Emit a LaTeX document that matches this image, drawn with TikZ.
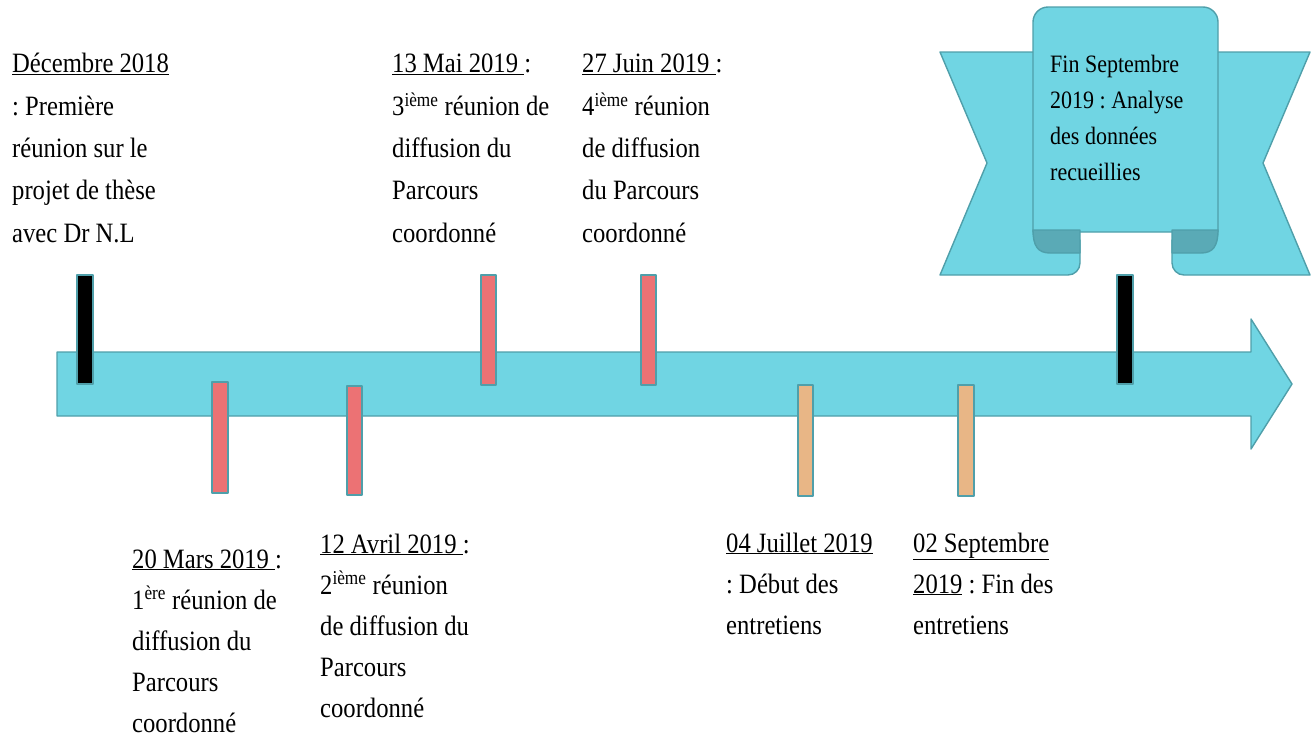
\documentclass[tikz,border=0pt]{standalone}
\usepackage{fontspec}
\setmainfont{Liberation Serif}[FakeStretch=0.88]
\frenchspacing
\definecolor{cyanfill}{HTML}{70D5E3}
\definecolor{tealline}{HTML}{4F9FAA}
\definecolor{folddark}{HTML}{5AAAB6}
\definecolor{barred}{HTML}{EC7274}
\definecolor{barorange}{HTML}{E8B686}
\begin{document}
\begin{tikzpicture}[x=1pt,y=-1pt,
  shape line/.style={draw=tealline, line width=1.4pt, line join=round},
  lbltop/.style={anchor=base west, inner sep=0pt, align=left, font=\fontsize{28}{42.3}\selectfont},
  lblbot/.style={anchor=base west, inner sep=0pt, align=left, font=\fontsize{28}{41}\selectfont},
  lblpanel/.style={anchor=base west, inner sep=0pt, align=left, font=\fontsize{25}{36}\selectfont},
  bar/.style={shape line, line width=1.2pt}]
\useasboundingbox (0,0) rectangle (1316,737);

% main arrow
\draw[shape line, fill=cyanfill] (57,352) -- (1251,352) -- (1251,319) -- (1292,384)
  -- (1251,449) -- (1251,416) -- (57,416) -- cycle;

% bars
\draw[bar, fill=black] (77,275) rectangle (93,384);
\draw[bar, fill=barred] (212,382) rectangle (228,493);
\draw[bar, fill=barred] (347,386) rectangle (362,495);
\draw[bar, fill=barred] (481,275) rectangle (496,385);
\draw[bar, fill=barred] (641,275) rectangle (656,385);
\draw[bar, fill=barorange] (798,385) rectangle (813,496);
\draw[bar, fill=barorange] (958,385) rectangle (974,496);
\draw[bar, fill=black] (1117,275) rectangle (1133,384);

% ribbon: tails
\draw[shape line, fill=cyanfill] (1060,52) -- (940,52) -- (987,163) -- (940,275)
  -- (1068,275) arc[start angle=90, end angle=0, x radius=12pt, y radius=-12pt]
  -- (1080,240) -- (1060,240) -- cycle;
\draw[shape line, fill=cyanfill] (1191,52) -- (1310,52) -- (1263,163) -- (1310,275)
  -- (1184,275) arc[start angle=90, end angle=180, x radius=12pt, y radius=-12pt]
  -- (1172,240) -- (1191,240) -- cycle;
% ribbon: central panel
\draw[shape line, fill=cyanfill] (1033,232) -- (1033,22)
  arc[start angle=180, end angle=90, radius=15pt]
  -- (1203,7) arc[start angle=90, end angle=0, radius=15pt]
  -- (1218,232) -- cycle;
% ribbon: folds
\draw[shape line, fill=folddark] (1080,230) -- (1033,230)
  .. controls (1033,246) and (1038,253) .. (1050,253) -- (1080,253) -- cycle;
\draw[shape line, fill=folddark] (1172,230) -- (1218,230)
  .. controls (1218,246) and (1213,253) .. (1201,253) -- (1172,253) -- cycle;

% labels (anchored at the baseline of their last line)
\node[lbltop] (dec) at (12,242) {\underline{Décembre 2018}\\: Première\\réunion sur le\\projet de thèse\\avec Dr N.L};
\node[lbltop] (mai) at (392,242) {\underline{13 Mai 2019 }:\\3\textsuperscript{ième} réunion de\\diffusion du\\Parcours\\coordonné};
\node[lbltop] (juin) at (582,242) {\underline{27 Juin 2019 }:\\4\textsuperscript{ième} réunion\\de diffusion\\du Parcours\\coordonné};
\node[lblbot] (mars) at (132,732) {\underline{20 Mars 2019 }:\\1\textsuperscript{ère} réunion de\\diffusion du\\Parcours\\coordonné};
\node[lblbot] (avril) at (320,717) {\underline{12 Avril 2019 }:\\2\textsuperscript{ième} réunion\\de diffusion du\\Parcours\\coordonné};
\node[lblbot] (juillet) at (726,634) {\underline{04 Juillet 2019}\\: Début des\\entretiens};
\node[lblbot] (sept) at (913,634) {\underline{02 Septembre}\\\underline{2019} : Fin des\\entretiens};
\node[lblpanel] (fin) at (1050,180) {Fin Septembre\\2019 : Analyse\\des données\\recueillies};
\end{tikzpicture}
\end{document}
